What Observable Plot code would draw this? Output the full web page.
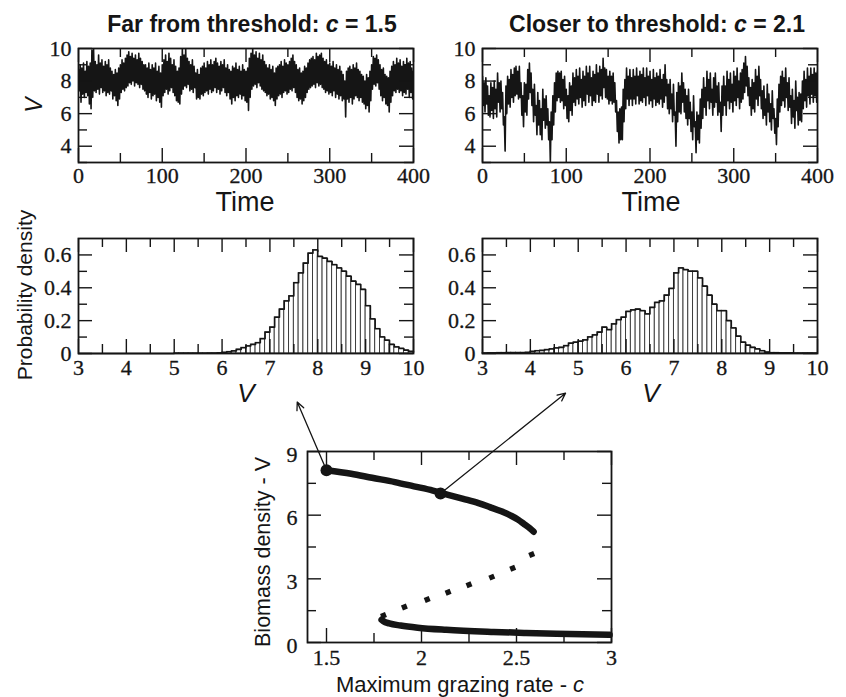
<!DOCTYPE html>
<html><head><meta charset="utf-8">
<script src="https://cdn.jsdelivr.net/npm/d3@7"></script>
<script src="https://cdn.jsdelivr.net/npm/@observablehq/plot@0.6"></script>
<style>
html,body{margin:0;padding:0;background:#fff;}
#fig{position:relative;width:846px;height:697px;overflow:hidden;background:#fff;}
#fig svg{position:absolute;}
</style></head><body><div id="fig"></div>
<script>
// ---------- data ----------
// time axis (every 2 time units); band values: upper edge read at t, lower edge read at t+1
const time = [
0,2,4,6,8,10,12,14,16,18, 20,22,24,26,28,30,32,34,36,38,
40,42,44,46,48,50,52,54,56,58, 60,62,64,66,68,70,72,74,76,78,
80,82,84,86,88,90,92,94,96,98, 100,102,104,106,108,110,112,114,116,118,
120,122,124,126,128,130,132,134,136,138, 140,142,144,146,148,150,152,154,156,158,
160,162,164,166,168,170,172,174,176,178, 180,182,184,186,188,190,192,194,196,198,
200,202,204,206,208,210,212,214,216,218, 220,222,224,226,228,230,232,234,236,238,
240,242,244,246,248,250,252,254,256,258, 260,262,264,266,268,270,272,274,276,278,
280,282,284,286,288,290,292,294,296,298, 300,302,304,306,308,310,312,314,316,318,
320,322,324,326,328,330,332,334,336,338, 340,342,344,346,348,350,352,354,356,358,
360,362,364,366,368,370,372,374,376,378, 380,382,384,386,388,390,392,394,396,398,
400];
const hi15 = [
8.7,9.0,8.8,9.1,8.6,9.2,8.9,9.1,9.9,10.0,
9.2,9.0,9.6,9.1,9.3,8.9,9.2,9.0,9.3,8.8,
8.6,8.4,8.7,8.5,8.8,9.0,9.3,9.1,9.4,9.6,
9.8,9.5,9.7,9.4,9.6,9.3,9.7,9.4,9.2,9.0,
9.0,8.8,9.1,8.7,9.0,8.8,9.1,8.6,8.9,8.5,
9.0,9.3,9.6,9.2,9.7,9.4,9.0,9.3,8.9,8.6,
8.8,9.5,10.0,9.6,10.0,9.4,9.2,9.0,9.3,8.9,
8.5,8.7,8.4,8.8,8.9,9.1,8.8,9.2,9.0,9.3,
9.0,9.2,9.4,9.1,8.9,9.2,9.0,9.3,8.8,9.0,
8.7,8.6,8.9,8.8,9.1,8.7,8.9,8.6,9.0,8.7,
8.6,8.8,9.4,9.7,10.0,9.6,9.8,9.4,9.7,9.3,
9.6,9.2,9.0,8.8,9.0,8.7,8.9,8.5,8.8,8.9,
9.0,9.2,8.9,9.3,9.1,9.0,9.2,9.4,9.6,9.2,
9.0,8.7,8.8,8.5,8.6,8.9,8.8,9.1,9.3,9.4,
9.5,9.3,9.7,9.5,9.6,9.7,9.4,9.2,9.3,9.0,
9.1,8.9,9.2,8.8,9.0,8.7,8.9,8.6,8.4,8.0,
8.6,8.8,8.9,8.7,9.0,8.8,9.1,8.7,8.6,8.4,
8.3,8.0,8.4,8.2,8.6,9.0,9.5,9.4,9.6,9.3,
9.0,8.7,8.8,8.4,8.3,8.2,8.6,8.9,9.2,9.0,
9.4,9.1,9.3,8.9,9.2,9.0,9.4,9.1,9.2,8.8,
8.6];
const lo15 = [
7.4,6.7,7.2,7.0,7.3,7.1,6.6,6.3,7.0,7.4,
7.3,7.5,7.2,7.6,7.3,7.4,7.1,7.3,7.2,7.4,
6.9,7.1,6.8,6.5,6.9,7.3,7.5,7.4,7.6,7.7,
7.9,7.8,8.0,7.7,7.9,7.8,7.6,7.8,7.5,7.4,
7.2,7.0,7.3,6.9,7.1,7.2,6.8,7.0,6.7,6.4,
7.1,7.3,7.5,7.2,7.4,7.6,7.3,7.1,6.8,6.7,
6.6,7.2,7.5,7.7,7.6,7.8,7.4,7.5,7.3,7.6,
6.9,7.0,6.9,7.2,7.1,7.3,7.4,7.2,7.5,7.3,
7.4,7.6,7.3,7.5,7.2,7.4,7.6,7.3,7.1,7.3,
6.9,6.6,7.0,6.8,7.1,7.0,7.2,6.9,7.1,6.8,
6.7,6.2,7.0,7.5,7.7,7.8,7.6,7.9,7.7,7.5,
7.4,7.3,7.1,7.2,6.9,7.0,6.8,6.5,6.9,7.1,
7.2,7.0,7.3,7.4,7.2,7.3,7.5,7.4,7.6,7.3,
7.0,6.8,6.9,6.6,6.8,7.0,7.3,7.5,7.6,7.7,
7.8,7.6,7.9,7.7,7.8,7.6,7.5,7.3,7.4,7.2,
7.3,7.1,7.4,7.0,7.2,6.9,7.1,6.8,6.9,5.8,
6.9,6.7,7.0,6.6,6.9,7.1,7.0,6.8,7.0,6.7,
6.6,6.3,6.5,6.1,6.8,7.5,7.8,7.7,7.9,7.5,
7.1,6.8,7.0,6.6,6.5,6.1,6.7,7.1,7.4,7.3,
7.5,7.3,7.4,7.1,7.3,7.2,7.5,7.0,7.3,6.9,
7.2];
const hi21 = [
8.3,7.9,8.2,7.7,7.1,7.9,7.6,8.0,7.5,8.5,
7.9,8.0,7.3,5.8,7.7,8.3,8.1,8.7,8.4,8.8,
8.9,8.6,8.9,7.9,7.1,7.9,7.8,8.7,9.1,8.5,
7.5,7.8,6.5,7.3,6.8,6.3,7.5,6.9,7.1,6.3,
5.5,6.1,7.1,7.9,8.5,8.6,8.5,8.6,8.1,8.3,
7.5,7.1,7.9,7.7,8.5,8.2,8.7,8.3,8.8,8.1,
8.6,8.3,8.9,8.5,8.9,8.2,8.6,8.4,9.0,8.5,
8.9,8.7,9.4,8.8,8.7,8.3,8.6,8.3,8.5,7.9,
6.8,6.1,6.3,6.4,7.5,8.1,8.8,8.3,8.7,8.2,
8.7,8.3,8.8,8.3,8.6,8.4,8.8,8.2,8.8,8.3,
8.6,8.1,8.7,8.2,8.5,8.3,8.7,8.1,8.4,9.0,
8.1,7.8,8.1,7.2,7.8,6.1,7.3,7.9,7.7,8.5,
7.9,7.5,7.1,7.5,6.7,6.1,7.1,5.5,6.1,5.9,
6.9,7.5,8.2,7.6,8.6,8.1,8.5,7.5,8.2,8.5,
7.7,7.9,6.7,7.7,8.3,7.7,8.6,8.1,8.5,7.8,
8.6,8.3,8.8,8.0,8.5,8.7,9.1,9.5,8.9,8.2,
7.6,8.1,7.9,8.7,8.3,8.9,8.1,7.4,7.7,6.9,
7.8,7.2,6.6,7.4,6.3,5.7,6.9,7.8,8.3,8.6,
8.2,8.8,7.9,8.2,7.1,7.5,6.8,8.0,7.0,7.3,
7.2,8.0,8.6,8.1,8.8,8.3,8.8,8.4,8.8,8.5,
8.6];
const lo21 = [
6.5,6.1,6.6,5.9,5.8,6.2,5.7,6.3,5.8,6.7,
6.1,6.3,5.3,3.7,6.0,6.6,6.4,7.0,6.7,7.1,
7.2,6.9,7.0,5.9,5.2,6.1,5.9,6.9,7.3,6.5,
5.5,5.9,4.7,5.3,4.7,4.4,5.6,5.1,5.3,4.4,
3.0,4.4,5.3,6.1,6.8,7.0,6.7,6.8,6.3,6.5,
5.7,5.5,6.2,5.9,6.7,6.5,6.9,6.6,7.0,6.4,
6.8,6.5,7.2,6.7,7.1,6.5,6.8,6.7,7.2,6.7,
7.1,6.9,7.6,7.0,6.9,6.6,6.8,6.6,6.7,6.1,
4.9,4.2,4.4,4.4,5.5,6.3,6.9,6.5,6.9,6.5,
6.9,6.6,7.1,6.6,6.8,6.7,7.0,6.5,7.1,6.6,
6.8,6.4,6.9,6.5,6.7,6.6,6.9,6.4,6.7,7.1,
6.3,6.0,6.3,5.5,5.9,4.0,5.5,6.1,6.0,6.7,
6.1,5.7,5.3,5.7,4.9,4.4,5.2,3.6,4.4,4.2,
5.1,5.7,6.4,5.9,6.8,6.3,6.7,5.9,6.4,6.7,
5.9,6.1,4.9,5.9,6.5,5.9,6.8,6.3,6.7,6.1,
6.8,6.5,7.0,6.3,6.7,6.9,7.3,7.7,7.1,6.5,
5.9,6.3,6.1,6.9,6.5,7.1,6.3,5.7,5.9,5.3,
6.1,5.5,5.0,5.7,4.8,4.1,5.2,6.1,6.5,6.8,
6.4,7.0,6.2,6.4,5.4,5.8,5.1,6.2,5.3,5.6,
5.5,6.3,6.8,6.4,7.1,6.6,7.2,6.7,7.1,6.7,
6.9];

const binLeft = [
3.0,3.1,3.2,3.3,3.4,3.5,3.6,3.7,3.8,3.9,
4.0,4.1,4.2,4.3,4.4,4.5,4.6,4.7,4.8,4.9,
5.0,5.1,5.2,5.3,5.4,5.5,5.6,5.7,5.8,5.9,
6.0,6.1,6.2,6.3,6.4,6.5,6.6,6.7,6.8,6.9,
7.0,7.1,7.2,7.3,7.4,7.5,7.6,7.7,7.8,7.9,
8.0,8.1,8.2,8.3,8.4,8.5,8.6,8.7,8.8,8.9,
9.0,9.1,9.2,9.3,9.4,9.5,9.6,9.7,9.8,9.9];
const binWidth = 0.1;
const density15 = [
0,0,0,0,0,0,0,0,0,0,
0,0,0,0,0,0,0,0,0,0,
0.001,0.001,0.001,0.001,0.001,0.001,0.001,0.002,0.002,0.003,
0.006,0.010,0.015,0.025,0.035,0.045,0.055,0.065,0.090,0.130,
0.160,0.220,0.270,0.320,0.350,0.430,0.490,0.550,0.610,0.630,
0.590,0.580,0.560,0.540,0.520,0.500,0.470,0.440,0.420,0.390,
0.290,0.210,0.150,0.100,0.080,0.055,0.040,0.030,0.020,0.012];
const density21 = [
0.002,0.003,0.003,0.004,0.004,0.005,0.005,0.005,0.005,0.006,
0.012,0.016,0.018,0.023,0.027,0.033,0.037,0.047,0.062,0.068,
0.074,0.082,0.100,0.113,0.130,0.160,0.145,0.180,0.205,0.220,
0.255,0.265,0.270,0.260,0.240,0.280,0.310,0.320,0.355,0.395,
0.490,0.520,0.510,0.500,0.500,0.460,0.410,0.355,0.300,0.260,
0.260,0.200,0.155,0.105,0.068,0.050,0.037,0.027,0.016,0.008,
0.004,0.004,0.003,0.003,0.003,0.002,0.002,0.002,0.002,0.001];

// bifurcation diagram
const upperC = [1.50,1.63,1.74,1.86,1.96,2.06,2.14,2.22,2.30,2.36,2.42,2.47,2.51,2.54,2.57,2.59];
const upperV = [8.12,7.95,7.76,7.56,7.36,7.16,6.96,6.77,6.57,6.38,6.18,5.98,5.78,5.58,5.38,5.22];
const middleC = [1.80,1.91,2.03,2.14,2.25,2.37,2.48,2.58];
const middleV = [1.27,1.67,2.03,2.37,2.72,3.08,3.50,4.15];
const lowerC = [1.79,1.80,1.83,1.89,1.98,2.13,2.38,2.55,2.78,2.99];
const lowerV = [1.07,1.00,0.90,0.80,0.70,0.60,0.50,0.45,0.40,0.36];
const markedC = [1.5, 2.1];
const markedV = [8.12, 7.02];
const arrowEndC = [1.346, 2.758];
const arrowEndV = [11.33, 11.75];

// ticks
const timeTicks = [0,100,200,300,400], timeMinor = [50,150,250,350];
const vTicks = [4,6,8,10], vMinor = [3,5,7,9];
const binTicks = [3,4,5,6,7,8,9,10], binMinor = [3.5,4.5,5.5,6.5,7.5,8.5,9.5];
const densTicks = [0,0.2,0.4,0.6], densMinor = [0.1,0.3,0.5];
const cTicks = [1.5,2,2.5,3], cMinor = [1.75,2.25,2.75];
const bioTicks = [0,3,6,9], bioMinor = [1.5,4.5,7.5];

// ---------- helpers ----------
const SERIF = "Liberation Serif, Times New Roman, serif";
const SANS = "Liberation Sans, Arial, Helvetica, sans-serif";
const INK = "#151515";
const fig = document.getElementById("fig");

function frameMarks({xMajor, xMinor, yMajor, yMinor, fw, fh, xPad = 5, yPad = 7, yDy = 0, fs = 22, major = 14, minor = 9}) {
  const sw = 1.4;
  const textStyle = {fontSize: fs, fontFamily: SERIF, fill: INK, stroke: INK, strokeWidth: 0.3};
  return [
    Plot.ruleX(xMajor, {insetTop: fh - major, strokeWidth: sw, stroke: INK}),
    Plot.ruleX(xMajor, {insetBottom: fh - major, strokeWidth: sw, stroke: INK}),
    Plot.ruleX(xMinor, {insetTop: fh - minor, strokeWidth: sw, stroke: INK}),
    Plot.ruleX(xMinor, {insetBottom: fh - minor, strokeWidth: sw, stroke: INK}),
    Plot.ruleY(yMajor, {insetRight: fw - major, strokeWidth: sw, stroke: INK}),
    Plot.ruleY(yMajor, {insetLeft: fw - major, strokeWidth: sw, stroke: INK}),
    Plot.ruleY(yMinor, {insetRight: fw - minor, strokeWidth: sw, stroke: INK}),
    Plot.ruleY(yMinor, {insetLeft: fw - minor, strokeWidth: sw, stroke: INK}),
    Plot.frame({stroke: INK, strokeWidth: 1.8}),
    // tick labels
    Plot.text(xMajor, {x: d => d, text: d => String(d), frameAnchor: "bottom", lineAnchor: "top", dy: xPad, ...textStyle}),
    Plot.text(yMajor, {y: d => d, text: d => String(d), frameAnchor: "left", textAnchor: "end", lineAnchor: "middle", dx: -yPad, dy: yDy, ...textStyle})
  ];
}

function place(svg, left, top) {
  svg.style.left = left + "px";
  svg.style.top = top + "px";
  fig.appendChild(svg);
}

const common = {style: "background: transparent; overflow: visible;"};

// ---------- time series panels ----------
function timePanel(hi, lo) {
  const data = time.flatMap((t, i) => [{t, v: hi[i]}, {t: t + 1, v: lo[i]}]);
  return {
    x: {domain: [0, 400], axis: null},
    y: {domain: [3, 10], axis: null},
    marks: [
      Plot.line(data, {x: "t", y: "v", stroke: INK, strokeWidth: 1.6, clip: true}),
      ...frameMarks({xMajor: timeTicks, xMinor: timeMinor, yMajor: vTicks, yMinor: vMinor, fw: 335, fh: 114})
    ]
  };
}
place(Plot.plot({...common, width: 430, height: 190, marginLeft: 78, marginRight: 17, marginTop: 48, marginBottom: 28, ...timePanel(hi15, lo15)}), 0, 0);
place(Plot.plot({...common, width: 426, height: 190, marginLeft: 62, marginRight: 29, marginTop: 48, marginBottom: 28, ...timePanel(hi21, lo21)}), 420, 0);

// ---------- histogram panels ----------
function histPanel(dens) {
  const bars = binLeft.map((x, i) => ({x1: x, x2: x + binWidth, y: dens[i]}));
  const step = binLeft.map((x, i) => ({x, y: dens[i]})).concat([{x: binLeft[binLeft.length - 1] + binWidth, y: dens[dens.length - 1]}]);
  return {
    x: {domain: [3, 10], axis: null},
    y: {domain: [0, 0.7], axis: null},
    marks: [
      Plot.rectY(bars, {x1: "x1", x2: "x2", y: "y", fill: "white", stroke: "#333", strokeWidth: 0.9, inset: 0}),
      Plot.line(step, {x: "x", y: "y", curve: "step-after", stroke: INK, strokeWidth: 1.5}),
      ...frameMarks({xMajor: binTicks, xMinor: binMinor, yMajor: densTicks, yMinor: densMinor, fw: 335, fh: 115, xPad: 6})
    ]
  };
}
place(Plot.plot({...common, width: 430, height: 185, marginLeft: 78, marginRight: 17, marginTop: 38, marginBottom: 32, ...histPanel(density15)}), 0, 200);
place(Plot.plot({...common, width: 426, height: 185, marginLeft: 62, marginRight: 29, marginTop: 38, marginBottom: 32, ...histPanel(density21)}), 420, 200);

// ---------- bifurcation panel ----------
const upper = upperC.map((c, i) => ({c, v: upperV[i]}));
const middle = middleC.map((c, i) => ({c, v: middleV[i]}));
const lower = lowerC.map((c, i) => ({c, v: lowerV[i]}));
const marked = markedC.map((c, i) => ({c, v: markedV[i], c2: arrowEndC[i], v2: arrowEndV[i]}));
place(Plot.plot({
  ...common,
  width: 400, height: 312, marginLeft: 77, marginRight: 19, marginTop: 66, marginBottom: 55,
  x: {domain: [1.4, 3.0], axis: null},
  y: {domain: [0, 9], axis: null},
  marks: [
    ...frameMarks({xMajor: cTicks, xMinor: cMinor, yMajor: bioTicks, yMinor: bioMinor, fw: 304, fh: 191, xPad: 7, yPad: 10, yDy: 3, fs: 22}),
    Plot.line(upper, {x: "c", y: "v", curve: "monotone-x", stroke: INK, strokeWidth: 6.5}),
    Plot.line(lower, {x: "c", y: "v", curve: "monotone-x", stroke: INK, strokeWidth: 6.5}),
    Plot.dot(middle, {x: "c", y: "v", symbol: "square", r: 3, fill: INK, rotate: -22}),
    Plot.arrow(marked, {x1: "c", y1: "v", x2: "c2", y2: "v2", stroke: INK, strokeWidth: 1.3, headLength: 10, headAngle: 50}),
    Plot.dot(marked, {x: "c", y: "v", r: 6, fill: INK})
  ]
}), 230, 385);

// ---------- text overlay ----------
const NS = "http://www.w3.org/2000/svg";
const overlay = document.createElementNS(NS, "svg");
overlay.setAttribute("width", 846);
overlay.setAttribute("height", 697);
overlay.style.left = "0px"; overlay.style.top = "0px"; overlay.style.pointerEvents = "none";
fig.appendChild(overlay);
function addText(parts, {x, y, size, weight = "normal", anchor = "middle", rotate = 0, family = SANS}) {
  const t = document.createElementNS(NS, "text");
  t.setAttribute("transform", `translate(${x},${y}) rotate(${rotate})`);
  t.setAttribute("text-anchor", anchor);
  t.setAttribute("font-size", size);
  t.setAttribute("font-family", family);
  t.setAttribute("font-weight", weight);
  t.setAttribute("fill", INK);
  t.style.whiteSpace = "pre";
  for (const p of parts) {
    const s = document.createElementNS(NS, "tspan");
    if (p.italic) s.setAttribute("font-style", "italic");
    s.textContent = p.text;
    t.appendChild(s);
  }
  overlay.appendChild(t);
}
addText([{text: "Far from threshold: "}, {text: "c", italic: true}, {text: " = 1.5"}], {x: 252, y: 32, size: 23, weight: "bold"});
addText([{text: "Closer to threshold: "}, {text: "c", italic: true}, {text: " = 2.1"}], {x: 657, y: 32, size: 23, weight: "bold"});
addText([{text: "V", italic: true}], {x: 42, y: 105, size: 23, rotate: -90});
addText([{text: "Time"}], {x: 245, y: 211, size: 27});
addText([{text: "Time"}], {x: 651, y: 211, size: 27});
addText([{text: "Probability density"}], {x: 32, y: 295, size: 21, rotate: -90});
addText([{text: "V", italic: true}], {x: 246, y: 402, size: 26});
addText([{text: "V", italic: true}], {x: 651, y: 402, size: 26});
addText([{text: "Biomass density - V"}], {x: 270, y: 552, size: 21.5, rotate: -90});
addText([{text: "Maximum grazing rate - "}, {text: "c", italic: true}], {x: 460, y: 692, size: 22});
</script>
</body></html>
